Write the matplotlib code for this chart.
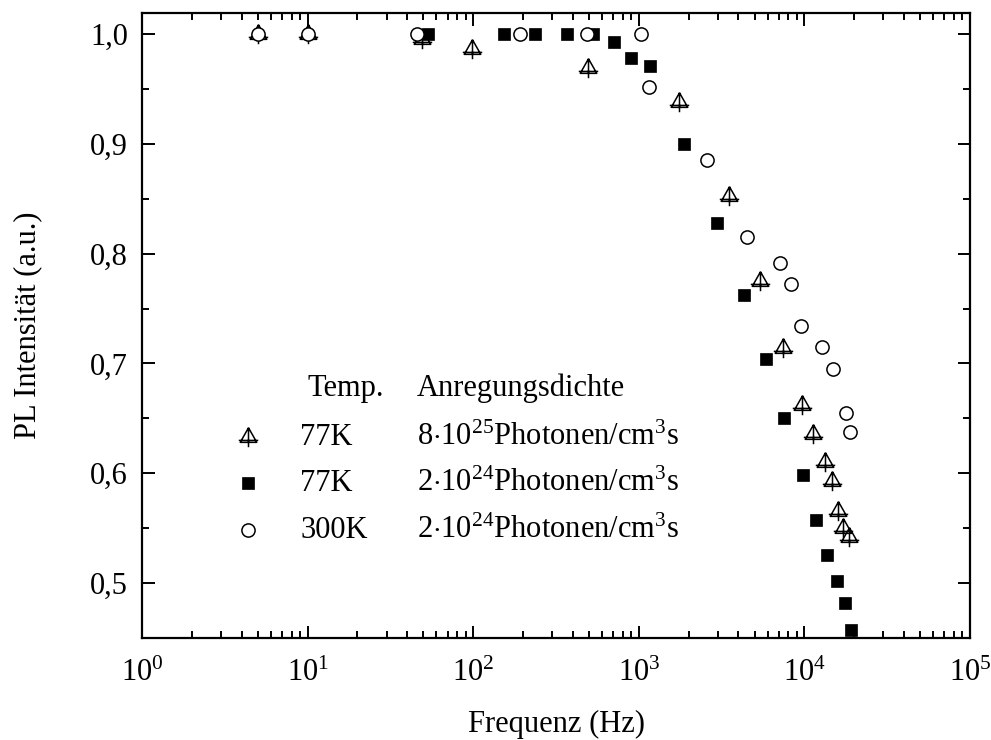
import math

import matplotlib
matplotlib.use("Agg")
import matplotlib.pyplot as plt
from matplotlib.path import Path
from matplotlib.ticker import LogLocator, MultipleLocator, FuncFormatter, NullFormatter

plt.rcParams['font.family'] = ['Liberation Serif', 'DejaVu Serif']
plt.rcParams['mathtext.fontset'] = 'custom'
plt.rcParams['mathtext.rm'] = 'Liberation Serif'
plt.rcParams['mathtext.it'] = 'Liberation Serif:italic'
plt.rcParams['font.size'] = 22

# 77K, 8e25 Photonen/cm^3 s (triangles)
freq_77k_high = [5, 10, 49, 98, 493, 1750, 3510, 5390, 7430, 9670, 11270,
                 13310, 14690, 15950, 17100, 18600]
pl_77k_high = [1.0, 1.0, 0.995, 0.986, 0.969, 0.938, 0.852, 0.775, 0.714,
               0.662, 0.636, 0.61, 0.593, 0.566, 0.55, 0.542]

# 77K, 2e24 Photonen/cm^3 s (filled squares)
freq_77k_low = [53, 153, 236, 368, 529, 708, 897, 1169, 1875, 2967, 4317,
                5860, 7530, 9780, 11750, 13680, 15730, 17580, 19100]
pl_77k_low = [1.0, 1.0, 1.0, 1.0, 1.0, 0.993, 0.978, 0.971, 0.9, 0.828,
              0.762, 0.704, 0.65, 0.598, 0.557, 0.526, 0.502, 0.482, 0.457]

# 300K, 2e24 Photonen/cm^3 s (open circles)
freq_300k = [5, 10, 46, 192, 486, 1031, 1152, 2573, 4500, 7120, 8300, 9530,
             12770, 14900, 17830, 18850]
pl_300k = [1.0, 1.0, 1.0, 1.0, 1.0, 1.0, 0.952, 0.885, 0.815, 0.791, 0.772,
           0.734, 0.7145, 0.695, 0.6545, 0.638]

legend_temps = ['77K', '77K', '300K']
legend_dens = [r'8$\cdot$10$^{\mathregular{25}}$Photonen/cm$^{\mathregular{3}}$s',
               r'2$\cdot$10$^{\mathregular{24}}$Photonen/cm$^{\mathregular{3}}$s',
               r'2$\cdot$10$^{\mathregular{24}}$Photonen/cm$^{\mathregular{3}}$s']

y_ticks = [0.5, 0.6, 0.7, 0.8, 0.9, 1.0]

# triangle with a cross through it
tri_cross = Path(
    [(0, 1), (-0.85, -0.5), (0.85, -0.5), (0, 1),
     (-1.0, -0.3), (1.0, -0.3),
     (0, 1), (0, -1.0)],
    [Path.MOVETO, Path.LINETO, Path.LINETO, Path.LINETO,
     Path.MOVETO, Path.LINETO,
     Path.MOVETO, Path.LINETO])

styles = [
    dict(marker=tri_cross, ms=14, mfc='none', mec='black', mew=1.1, ls='none', zorder=3),
    dict(marker='s', ms=8.5, mfc='black', mec='black', mew=0.5, ls='none', zorder=4),
    dict(marker='o', ms=9.5, mfc='white', mec='black', mew=1.1, ls='none', zorder=5),
]

fig = plt.figure(figsize=(9.91, 7.40), dpi=100)
ax = fig.add_axes([0.1433, 0.1378, 0.8355, 0.8446])

ax.plot(freq_77k_high, pl_77k_high, **styles[0])
ax.plot(freq_77k_low, pl_77k_low, **styles[1])
ax.plot(freq_300k, pl_300k, **styles[2])

ax.set_xscale('log')
ax.set_xlim(1, 1e5)
ax.set_ylim(0.45, 1.019)

ax.xaxis.set_major_locator(LogLocator(base=10, numticks=10))
ax.xaxis.set_minor_locator(LogLocator(base=10, subs=range(2, 10), numticks=20))
ax.xaxis.set_minor_formatter(NullFormatter())
ax.xaxis.set_major_formatter(FuncFormatter(
    lambda v, p: r'10$^{\mathregular{%d}}$' % round(math.log10(v))))

ax.set_yticks(y_ticks)
ax.yaxis.set_minor_locator(MultipleLocator(0.05))
ax.yaxis.set_major_formatter(FuncFormatter(lambda v, p: ('%.1f' % v).replace('.', ',')))

ax.tick_params(which='both', direction='in', top=True, right=True, width=1.4)
ax.tick_params(which='major', length=9, pad=10)
ax.tick_params(which='minor', length=5)
ax.tick_params(axis='x', which='major', pad=15)
for sp in ax.spines.values():
    sp.set_linewidth(1.6)

ax.set_xlabel('Frequenz (Hz)')
ax.set_ylabel('PL Intensität (a.u.)')
ax.xaxis.set_label_coords(0.5, -0.115)
ax.yaxis.set_label_coords(-0.121, 0.5)

# table-like legend
ax.text(0.2, 0.4, 'Temp.', transform=ax.transAxes, va='center', ha='left')
ax.text(0.332, 0.4, 'Anregungsdichte', transform=ax.transAxes, va='center', ha='left')
row_y = [0.3216, 0.248, 0.1728]
for st, temp, dens, yy in zip(styles, legend_temps, legend_dens, row_y):
    ax.plot([0.128], [yy], transform=ax.transAxes, clip_on=False, **st)
    ax.text(0.191, yy, temp, transform=ax.transAxes, va='center', ha='left')
    ax.text(0.332, yy, dens, transform=ax.transAxes, va='center', ha='left')

fig.savefig('out.png', dpi=100)
